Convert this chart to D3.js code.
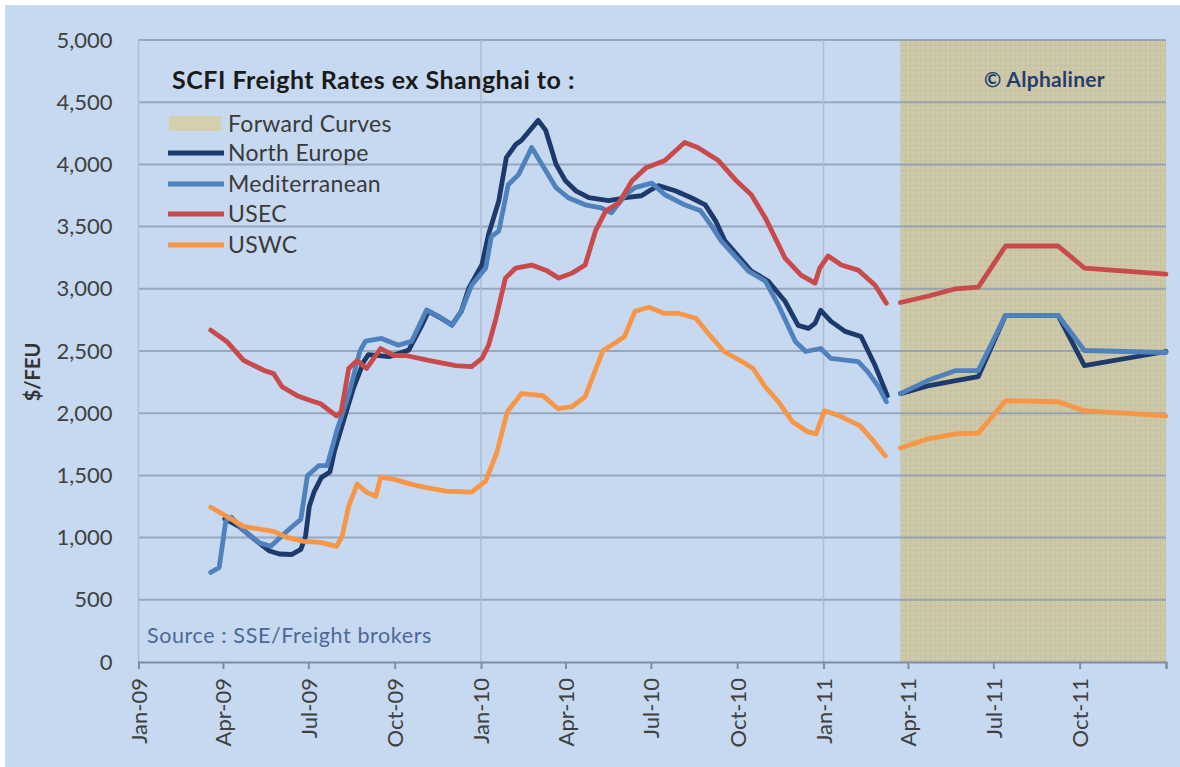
<!DOCTYPE html>
<html><head><meta charset="utf-8">
<script src="https://cdn.jsdelivr.net/npm/d3@7"></script>
<style>
body{margin:0;background:#fff}
svg{display:block}
text{font-family:Lato,"Open Sans",sans-serif}
</style>
</head><body>
<svg id="chart" width="1180" height="767"></svg>
<script>
// ---------------- DATA ----------------
const yTickValues = [0,500,1000,1500,2000,2500,3000,3500,4000,4500,5000];
const xTickDates = ["2009-01-01","2009-04-01","2009-07-01","2009-10-01","2010-01-01","2010-04-01","2010-07-01","2010-10-01","2011-01-01","2011-04-01","2011-07-01","2011-10-01","2012-01-01"];
const xTickLabels = ["Jan-09","Apr-09","Jul-09","Oct-09","Jan-10","Apr-10","Jul-10","Oct-10","Jan-11","Apr-11","Jul-11","Oct-11",""];
const seriesNames = ["North Europe","Mediterranean","USEC","USWC"];
const seriesColors = ["#1d3a6c","#4f81bd","#c94a4b","#f79646"];

const northEurope = [
["2009-04-03",1150],["2009-04-18",1090],["2009-05-04",990],["2009-05-20",895],["2009-05-31",868],["2009-06-13",864],["2009-06-23",905],["2009-06-28",1010],["2009-07-02",1250],["2009-07-07",1365],["2009-07-15",1484],["2009-07-24",1527],["2009-07-29",1700],["2009-08-08",1950],["2009-08-18",2200],["2009-08-29",2415],["2009-09-03",2470],["2009-09-25",2455],["2009-10-16",2507],["2009-10-30",2706],["2009-11-06",2819],["2009-11-18",2770],["2009-12-01",2710],["2009-12-11",2819],["2009-12-19",3005],["2010-01-02",3193],["2010-01-09",3436],["2010-01-20",3708],["2010-01-28",4055],["2010-02-07",4160],["2010-02-13",4192],["2010-03-03",4354],["2010-03-11",4273],["2010-03-22",4000],["2010-04-01",3869],["2010-04-12",3788],["2010-04-26",3732],["2010-05-17",3708],["2010-06-04",3732],["2010-06-21",3748],["2010-07-02",3800],["2010-07-09",3829],["2010-07-27",3788],["2010-08-13",3732],["2010-08-28",3675],["2010-09-08",3546],["2010-09-18",3385],["2010-10-16",3142],["2010-11-03",3062],["2010-11-21",2900],["2010-12-05",2706],["2010-12-16",2682],["2010-12-23",2722],["2010-12-29",2827],["2011-01-09",2738],["2011-01-24",2658],["2011-02-10",2617],["2011-02-25",2383],["2011-03-10",2141]
];
const mediterranean = [
["2009-03-19",720],["2009-03-28",760],["2009-04-04",1133],["2009-04-10",1163],["2009-04-23",1060],["2009-05-09",960],["2009-05-22",931],["2009-06-12",1077],["2009-06-23",1147],["2009-06-30",1497],["2009-07-12",1578],["2009-07-21",1578],["2009-07-31",1850],["2009-08-13",2150],["2009-08-25",2500],["2009-08-31",2580],["2009-09-17",2601],["2009-10-05",2547],["2009-10-19",2577],["2009-11-04",2830],["2009-11-17",2779],["2009-12-01",2706],["2009-12-11",2819],["2009-12-22",3029],["2010-01-06",3167],["2010-01-12",3420],["2010-01-20",3465],["2010-01-30",3837],["2010-02-10",3918],["2010-02-24",4136],["2010-03-07",4000],["2010-03-22",3813],["2010-04-04",3732],["2010-04-22",3675],["2010-05-09",3651],["2010-05-20",3611],["2010-06-04",3756],["2010-06-14",3813],["2010-07-02",3850],["2010-07-16",3756],["2010-08-06",3675],["2010-08-23",3627],["2010-09-03",3514],["2010-09-14",3385],["2010-10-13",3142],["2010-10-31",3062],["2010-11-14",2868],["2010-12-02",2577],["2010-12-13",2496],["2010-12-29",2520],["2011-01-09",2440],["2011-02-07",2415],["2011-02-17",2334],["2011-02-28",2221],["2011-03-09",2092]
];
const usec = [
["2009-03-19",2668],["2009-04-05",2577],["2009-04-23",2424],["2009-05-15",2343],["2009-05-25",2318],["2009-06-03",2213],["2009-06-19",2141],["2009-07-04",2100],["2009-07-14",2076],["2009-07-31",1979],["2009-08-05",2011],["2009-08-13",2359],["2009-08-22",2424],["2009-09-01",2359],["2009-09-16",2520],["2009-09-30",2464],["2009-10-13",2464],["2009-11-06",2424],["2009-12-05",2383],["2009-12-22",2375],["2010-01-02",2440],["2010-01-09",2545],["2010-01-17",2763],["2010-01-27",3086],["2010-02-07",3167],["2010-02-24",3191],["2010-03-11",3150],["2010-03-25",3086],["2010-04-08",3126],["2010-04-22",3191],["2010-05-03",3465],["2010-05-14",3627],["2010-05-28",3692],["2010-06-11",3869],["2010-06-26",3974],["2010-07-16",4031],["2010-08-06",4176],["2010-08-20",4136],["2010-09-11",4031],["2010-09-29",3877],["2010-10-16",3756],["2010-10-31",3570],["2010-11-21",3247],["2010-12-08",3110],["2010-12-23",3046],["2010-12-28",3167],["2011-01-06",3264],["2011-01-20",3191],["2011-02-07",3150],["2011-02-25",3029],["2011-03-09",2884]
];
const uswc = [
["2009-03-19",1244],["2009-04-05",1171],["2009-04-23",1090],["2009-05-25",1050],["2009-06-08",1002],["2009-06-26",970],["2009-07-14",961],["2009-07-31",929],["2009-08-06",1010],["2009-08-13",1252],["2009-08-22",1430],["2009-09-01",1365],["2009-09-11",1333],["2009-09-16",1486],["2009-09-30",1470],["2009-10-18",1430],["2009-11-01",1406],["2009-11-25",1373],["2009-12-22",1365],["2010-01-06",1454],["2010-01-18",1688],["2010-01-29",2011],["2010-02-13",2157],["2010-03-08",2141],["2010-03-24",2036],["2010-04-08",2052],["2010-04-22",2133],["2010-05-11",2504],["2010-05-23",2561],["2010-06-03",2617],["2010-06-14",2819],["2010-06-29",2852],["2010-07-15",2803],["2010-07-30",2803],["2010-08-18",2763],["2010-09-02",2625],["2010-09-17",2496],["2010-10-06",2415],["2010-10-18",2359],["2010-10-30",2221],["2010-11-14",2092],["2010-11-29",1931],["2010-12-15",1850],["2010-12-24",1834],["2011-01-02",2020],["2011-01-18",1979],["2011-02-09",1898],["2011-02-24",1769],["2011-03-08",1656]
];

const forwardDates = ["2011-03-24","2011-04-22","2011-05-22","2011-06-15","2011-07-14","2011-09-08","2011-10-06","2012-01-01"];
const fwdNorthEurope = [2157,2220,2262,2294,2787,2787,2383,2496];
const fwdMediterranean = [2157,2262,2343,2343,2787,2787,2504,2488];
const fwdUSEC = [2890,2940,3000,3013,3344,3344,3167,3118];
const fwdUSWC = [1720,1793,1834,1840,2100,2092,2020,1979];
const forwardPeriod = ["2011-03-24","2012-01-01"];

// ---------------- CHART ----------------
const parse = d3.timeParse("%Y-%m-%d");
const svg = d3.select("#chart");
const W = 1180, H = 767;
const x = d3.scaleTime().domain([parse("2009-01-01"), parse("2012-01-01")]).range([138.5, 1166]);
const y = d3.scaleLinear().domain([0, 5000]).range([662, 40]);

// background
svg.append("rect").attr("x",5).attr("y",5).attr("width",W-5).attr("height",H-5).attr("fill","#c6d9f0");

// pattern for forward region
const defs = svg.append("defs");
const pat = defs.append("pattern").attr("id","fwdpat").attr("patternUnits","userSpaceOnUse").attr("width",5).attr("height",5);
pat.append("rect").attr("width",5).attr("height",5).attr("fill","#cec9aa");
pat.append("path").attr("d","M0,0.5H5M0.5,0V5").attr("stroke","#c6c1a0").attr("stroke-width",1);

svg.append("rect")
  .attr("x", x(parse(forwardPeriod[0])))
  .attr("y", y(5000))
  .attr("width", x(parse(forwardPeriod[1])) - x(parse(forwardPeriod[0])))
  .attr("height", y(0) - y(5000))
  .attr("fill","url(#fwdpat)");

// horizontal gridlines
svg.append("g").selectAll("line").data(yTickValues.filter(v=>v>0)).join("line")
  .attr("x1", x.range()[0]).attr("x2", x.range()[1])
  .attr("y1", d=>y(d)).attr("y2", d=>y(d))
  .attr("stroke","#8b9ab2").attr("stroke-width",2).attr("stroke-opacity",0.8);

// vertical yearly gridlines
svg.append("g").selectAll("line").data(["2009-01-01","2010-01-01","2011-01-01"]).join("line")
  .attr("x1", d=>x(parse(d))).attr("x2", d=>x(parse(d)))
  .attr("y1", y(5000)).attr("y2", y(0))
  .attr("stroke","#adbdd2").attr("stroke-width",1.5);

// x axis
const xAxis = d3.axisBottom(x)
  .tickValues(xTickDates.map(parse))
  .tickSize(7)
  .tickFormat((d,i)=>xTickLabels[i]);
const gx = svg.append("g").attr("transform",`translate(0,${y(0)})`).call(xAxis);
gx.select(".domain").attr("stroke","#7d8ca3").attr("stroke-width",2);
gx.selectAll(".tick line").attr("stroke","#7d8ca3").attr("stroke-width",2);
gx.selectAll(".tick text")
  .attr("font-size",22).attr("fill","#404040")
  .attr("transform","rotate(-90)")
  .attr("text-anchor","end")
  .attr("x",-16).attr("y",0).attr("dy","0.36em");

// y axis
const yAxis = d3.axisLeft(y).tickValues(yTickValues).tickSize(0).tickPadding(26)
  .tickFormat(d3.format(","));
const gy = svg.append("g").attr("transform",`translate(${x.range()[0]},0)`).call(yAxis);
gy.select(".domain").remove();
gy.selectAll(".tick text").attr("font-size",22).attr("fill","#404040");

// y label
svg.append("text").attr("transform","translate(40,372) rotate(-90)")
  .attr("text-anchor","middle").attr("font-size",20).attr("font-weight","bold").attr("fill","#333")
  .text("$/FEU");

// lines
const line = d3.line().x(d=>x(d[0])).y(d=>y(d[1])).curve(d3.curveLinear);
const hist = [northEurope, mediterranean, usec, uswc];
const fwd = [fwdNorthEurope, fwdMediterranean, fwdUSEC, fwdUSWC];
const gl = svg.append("g").attr("fill","none").attr("stroke-width",4.8).attr("stroke-linejoin","round").attr("stroke-linecap","round");
hist.forEach((s,i)=>{
  gl.append("path").attr("d", line(s.map(p=>[parse(p[0]),p[1]]))).attr("stroke", seriesColors[i]);
  gl.append("path").attr("d", line(fwd[i].map((v,j)=>[parse(forwardDates[j]),v]))).attr("stroke", seriesColors[i]);
});

// title
svg.append("text").attr("x",172).attr("y",89).attr("font-size",25).attr("font-weight","bold").attr("fill","#1a1a1a")
  .attr("letter-spacing",0.5)
  .text("SCFI Freight Rates ex Shanghai to :");

// legend
const lg = svg.append("g");
lg.append("rect").attr("x",169).attr("y",116).attr("width",52).attr("height",15).attr("fill","#d5cfae");
lg.append("text").attr("x",228).attr("y",124).attr("dy","0.35em").attr("font-size",23).attr("letter-spacing",0.3).attr("fill","#3a3a3a").text("Forward Curves");
const rows = [153,184,214,245];
seriesNames.forEach((n,i)=>{
  lg.append("line").attr("x1",168).attr("x2",224).attr("y1",rows[i]).attr("y2",rows[i])
    .attr("stroke",seriesColors[i]).attr("stroke-width",5);
  lg.append("text").attr("x",228).attr("y",rows[i]).attr("dy","0.35em").attr("font-size",23).attr("letter-spacing",0.3).attr("fill","#3a3a3a").text(n);
});

// copyright
svg.append("text").attr("x",984).attr("y",87).attr("font-size",21).attr("font-weight","bold").attr("fill","#263e6b")
  .attr("letter-spacing",0.3)
  .text("© Alphaliner");

// source
svg.append("text").attr("x",147).attr("y",643).attr("font-size",21.5).attr("letter-spacing",0.6).attr("fill","#4d6896")
  .text("Source : SSE/Freight brokers");
</script>
</body></html>
